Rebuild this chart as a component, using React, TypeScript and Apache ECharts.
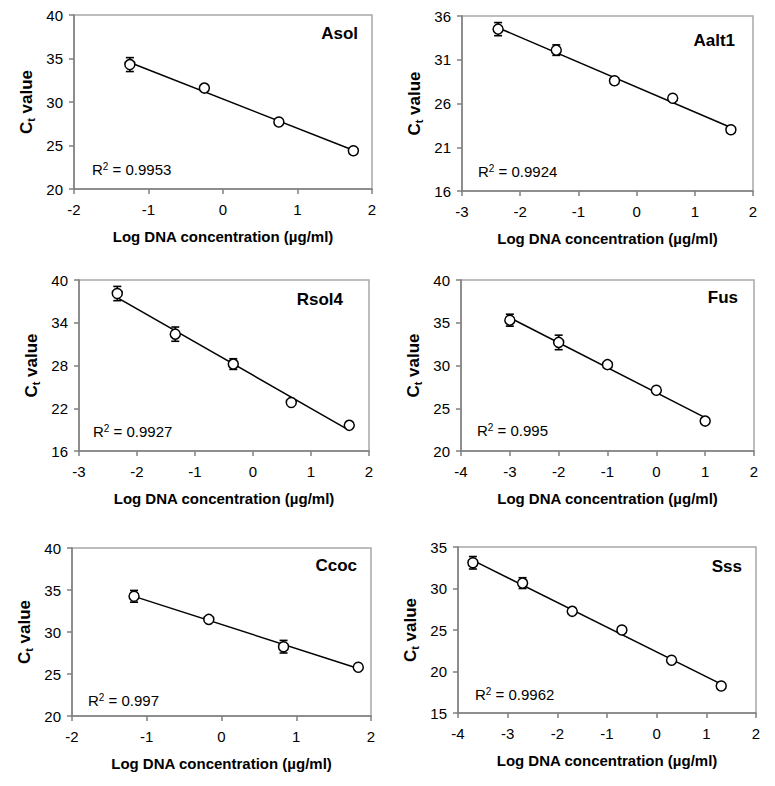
import React, { useEffect, useRef } from "react";
import * as echarts from "echarts";

// ---- Data ----
const panelNames = ["Asol", "Aalt1", "Rsol4", "Fus", "Ccoc", "Sss"];
const r2Labels = ["0.9953", "0.9924", "0.9927", "0.995", "0.997", "0.9962"];

const asolX = [-1.25, -0.25, 0.75, 1.75];
const asolY = [34.3, 31.6, 27.7, 24.4];
const asolErr = [0.8, 0.3, 0.2, 0.2];

const aalt1X = [-2.38, -1.38, -0.38, 0.62, 1.62];
const aalt1Y = [34.5, 32.1, 28.6, 26.6, 23.0];
const aalt1Err = [0.75, 0.6, 0.3, 0.15, 0.15];

const rsol4X = [-2.34, -1.34, -0.34, 0.66, 1.66];
const rsol4Y = [38.1, 32.4, 28.2, 22.8, 19.6];
const rsol4Err = [1.0, 1.0, 0.75, 0.2, 0.2];

const fusX = [-3, -2, -1, 0, 1];
const fusY = [35.3, 32.7, 30.1, 27.1, 23.5];
const fusErr = [0.7, 0.85, 0.3, 0.2, 0.1];

const ccocX = [-1.17, -0.17, 0.83, 1.83];
const ccocY = [34.25, 31.5, 28.25, 25.8];
const ccocErr = [0.7, 0.3, 0.75, 0.15];

const sssX = [-3.7, -2.7, -1.7, -0.7, 0.3, 1.3];
const sssY = [33.1, 30.65, 27.25, 25.0, 21.35, 18.25];
const sssErr = [0.75, 0.65, 0.25, 0.15, 0.15, 0.15];

const xMins = [-2, -3, -3, -4, -2, -4];
const xMaxs = [2, 2, 2, 2, 2, 2];
const yMins = [20, 16, 16, 20, 20, 15];
const yMaxs = [40, 36, 40, 40, 40, 35];
const yIntervals = [5, 5, 6, 5, 5, 5];

const xAxisName = "Log DNA concentration (µg/ml)";

// ---- Layout (pixels) ----
const gridRects = [
  { left: 74, top: 15, width: 298, height: 174 },
  { left: 462, top: 16, width: 291, height: 175 },
  { left: 79, top: 280, width: 290, height: 171 },
  { left: 461, top: 280, width: 293, height: 171 },
  { left: 72, top: 548, width: 299, height: 168 },
  { left: 458, top: 547, width: 298, height: 166 },
];
const titleRight = [358, 735, 343, 738, 357, 742];
const titleCy = [35, 42, 301, 299, 567, 568];
const r2Left = [92, 478, 93, 477, 88, 475];
const r2Cy = [171, 173, 433, 432, 702, 696];

const FONT = "Liberation Sans, Arial, Helvetica, sans-serif";

function regression(xs: number[], ys: number[]) {
  const n = xs.length;
  const mx = xs.reduce((a, b) => a + b, 0) / n;
  const my = ys.reduce((a, b) => a + b, 0) / n;
  let sxy = 0, sxx = 0;
  for (let i = 0; i < n; i++) {
    sxy += (xs[i] - mx) * (ys[i] - my);
    sxx += (xs[i] - mx) * (xs[i] - mx);
  }
  const slope = sxy / sxx;
  return { slope, intercept: my - slope * mx };
}

export default function App() {
  const ref = useRef<HTMLDivElement>(null);

  useEffect(() => {
    if (!ref.current) return;
    const chart = echarts.init(ref.current, undefined, { renderer: "svg" });

    const xs = [asolX, aalt1X, rsol4X, fusX, ccocX, sssX];
    const ys = [asolY, aalt1Y, rsol4Y, fusY, ccocY, sssY];
    const errs = [asolErr, aalt1Err, rsol4Err, fusErr, ccocErr, sssErr];

    const grids: any[] = [];
    const xAxes: any[] = [];
    const yAxes: any[] = [];
    const series: any[] = [];
    const titles: any[] = [];

    const axisLineStyle = { color: "#7f7f7f", width: 1.5 };

    for (let i = 0; i < 6; i++) {
      grids.push({
        ...gridRects[i],
        show: true,
        borderColor: "#a8a8a8",
        borderWidth: 1.5,
        backgroundColor: "transparent",
        containLabel: false,
      });
      xAxes.push({
        type: "value",
        gridIndex: i,
        min: xMins[i],
        max: xMaxs[i],
        interval: 1,
        splitLine: { show: false },
        axisLine: { show: true, onZero: false, lineStyle: axisLineStyle },
        axisTick: { show: true, inside: false, length: 5, lineStyle: axisLineStyle },
        axisLabel: { fontFamily: FONT, fontSize: 15, color: "#000", margin: 13 },
        name: xAxisName,
        nameLocation: "middle",
        nameGap: 40,
        nameTextStyle: { fontFamily: FONT, fontSize: 15, fontWeight: "bold", color: "#000" },
      });
      yAxes.push({
        type: "value",
        gridIndex: i,
        min: yMins[i],
        max: yMaxs[i],
        interval: yIntervals[i],
        splitLine: { show: false },
        axisLine: { show: true, onZero: false, lineStyle: axisLineStyle },
        axisTick: { show: true, inside: false, length: 5, lineStyle: axisLineStyle },
        axisLabel: { fontFamily: FONT, fontSize: 15, color: "#000", margin: 11 },
        name: "{a|C}{b|t}{a| value}",
        nameLocation: "middle",
        nameGap: 38,
        nameTextStyle: {
          rich: {
            a: { fontFamily: FONT, fontSize: 17, fontWeight: "bold", color: "#000" },
            b: { fontFamily: FONT, fontSize: 11, fontWeight: "bold", color: "#000", padding: [9, 0, 0, 0] },
          },
        },
      });

      const { slope, intercept } = regression(xs[i], ys[i]);
      const x0 = xs[i][0];
      const x1 = xs[i][xs[i].length - 1];
      series.push({
        type: "line",
        xAxisIndex: i,
        yAxisIndex: i,
        data: [
          [x0, intercept + slope * x0],
          [x1, intercept + slope * x1],
        ],
        symbol: "none",
        lineStyle: { color: "#000", width: 1.5 },
        z: 2,
        silent: true,
      });
      series.push({
        type: "custom",
        xAxisIndex: i,
        yAxisIndex: i,
        data: xs[i].map((x, k) => [x, ys[i][k], errs[i][k]]),
        encode: { x: 0, y: 1 },
        z: 3,
        renderItem: (params: any, api: any) => {
          const x = api.value(0);
          const y = api.value(1);
          const e = api.value(2);
          const top = api.coord([x, y + e]);
          const bot = api.coord([x, y - e]);
          const w = 4;
          const st = { stroke: "#000", lineWidth: 1.6 };
          return {
            type: "group",
            children: [
              { type: "line", shape: { x1: top[0], y1: top[1], x2: bot[0], y2: bot[1] }, style: st },
              { type: "line", shape: { x1: top[0] - w, y1: top[1], x2: top[0] + w, y2: top[1] }, style: st },
              { type: "line", shape: { x1: bot[0] - w, y1: bot[1], x2: bot[0] + w, y2: bot[1] }, style: st },
            ],
          };
        },
      });
      series.push({
        type: "scatter",
        xAxisIndex: i,
        yAxisIndex: i,
        data: xs[i].map((x, k) => [x, ys[i][k]]),
        symbol: "circle",
        symbolSize: 10,
        itemStyle: { color: "#fff", borderColor: "#000", borderWidth: 1.5, opacity: 1 },
        z: 4,
      });

      titles.push({
        text: panelNames[i],
        right: 775 - titleRight[i],
        top: titleCy[i] - 10,
        padding: 0,
        textStyle: { fontFamily: FONT, fontSize: 17, fontWeight: "bold", color: "#000" },
      });
      titles.push({
        text: "{a|R}{s|2}{a| = " + r2Labels[i] + "}",
        left: r2Left[i],
        top: r2Cy[i] - 10,
        padding: 0,
        textStyle: {
          fontWeight: "normal",
          rich: {
            a: { fontFamily: FONT, fontSize: 15, fontWeight: "normal", color: "#000" },
            s: { fontFamily: FONT, fontSize: 10, fontWeight: "normal", color: "#000", padding: [0, 0, 7, 0] },
          },
        },
      });
    }

    chart.setOption({
      animation: false,
      backgroundColor: "#fff",
      title: titles,
      grid: grids,
      xAxis: xAxes,
      yAxis: yAxes,
      series,
    });

    return () => chart.dispose();
  }, []);

  return (
    <div
      ref={ref}
      style={{ position: "absolute", left: 0, top: 0, width: 775, height: 786 }}
    />
  );
}
